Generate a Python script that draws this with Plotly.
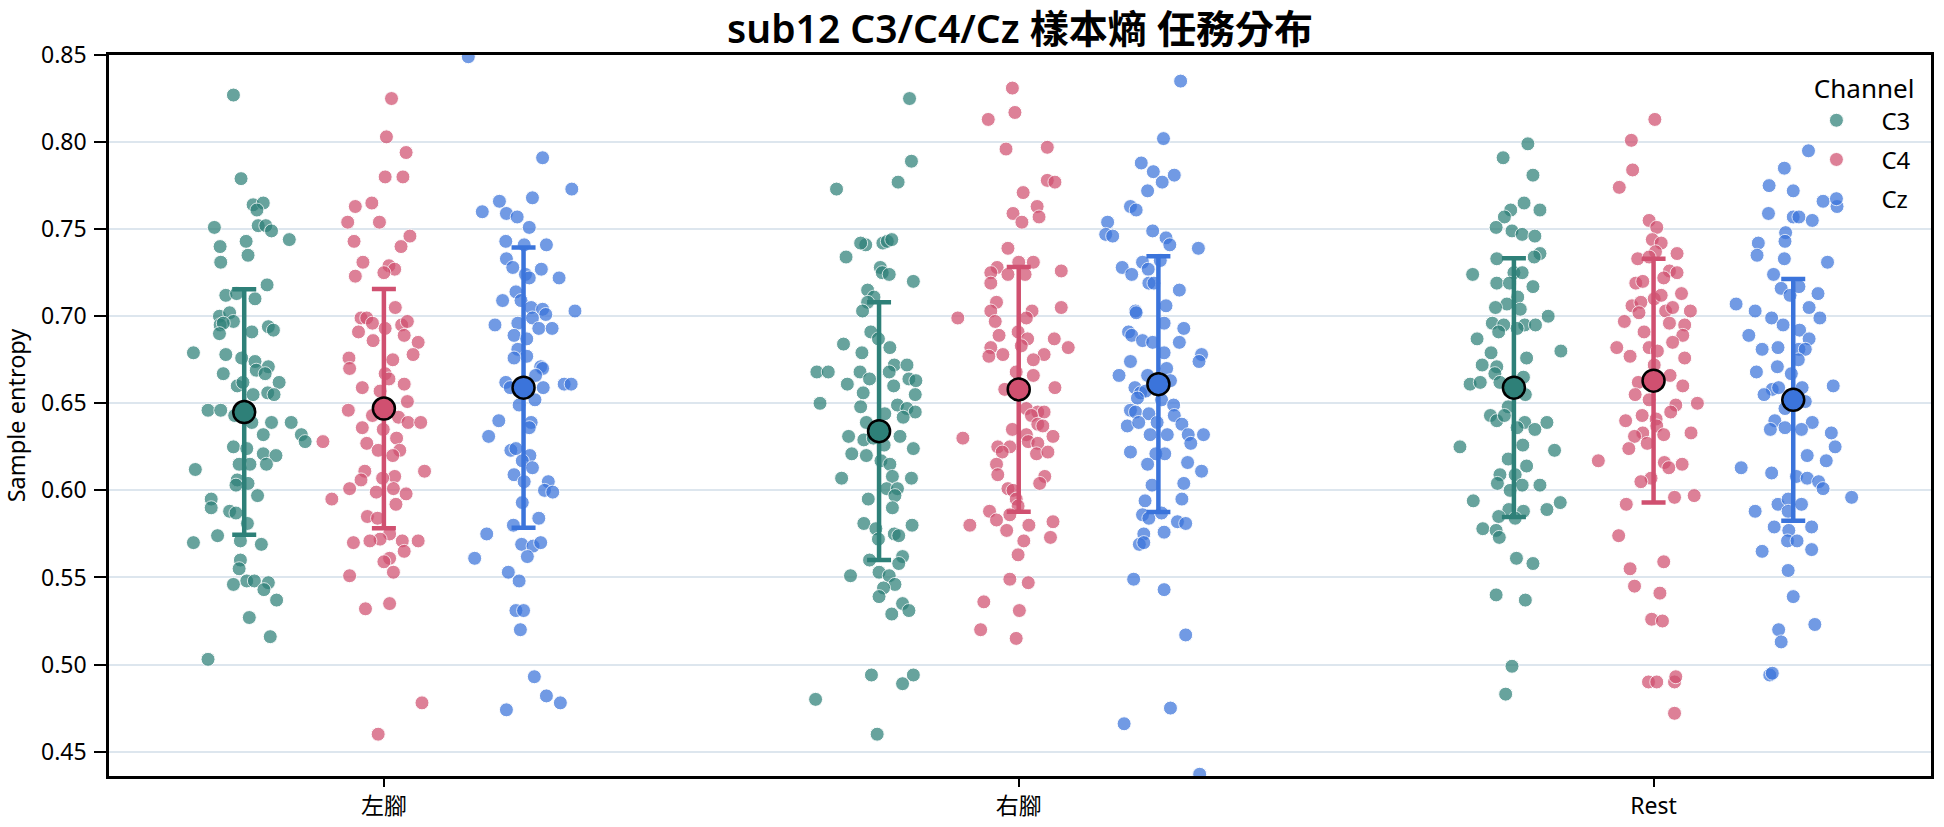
import plotly.graph_objects as go

CATEGORIES = ["左腳", "右腳", "Rest"]
CHANNELS = ["C3", "C4", "Cz"]
Y_TICKS = [0.45, 0.50, 0.55, 0.60, 0.65, 0.70, 0.75, 0.80, 0.85]

# ---- 左腳 ----
left_C3 = [0.827,0.779,0.764,0.765,0.761,0.752,0.752,0.749,0.751,0.743,
           0.744,0.740,0.735,0.731,0.718,0.712,0.713,0.710,0.700,0.702,
           0.697,0.695,0.696,0.694,0.692,0.691,0.690,0.679,0.678,0.676,
           0.674,0.671,0.669,0.667,0.667,0.662,0.660,0.662,0.656,0.655,
           0.655,0.646,0.646,0.643,0.639,0.639,0.639,0.632,0.628,0.632,
           0.625,0.624,0.621,0.620,0.615,0.615,0.615,0.612,0.606,0.604,
           0.603,0.597,0.595,0.590,0.588,0.587,0.581,0.570,0.574,0.571,
           0.569,0.560,0.555,0.548,0.546,0.548,0.547,0.543,0.537,0.527,
           0.516,0.503]
left_C3_jit = [-0.017,-0.005,0.014,0.030,0.020,0.022,0.034,0.043,-0.047,0.003,
               0.071,-0.038,0.006,-0.037,0.036,-0.029,-0.012,0.017,-0.039,-0.023,
               -0.017,-0.038,-0.033,0.038,0.046,0.012,-0.039,-0.080,-0.029,-0.004,
               0.017,0.038,0.019,0.033,-0.033,0.055,-0.011,-0.002,0.037,0.047,
               0.014,-0.057,-0.037,-0.015,0.012,0.043,0.074,0.090,0.096,0.030,
               -0.017,0.004,0.030,0.050,0.009,-0.008,0.035,-0.077,-0.011,0.006,
               -0.013,0.021,-0.052,-0.052,-0.023,-0.013,0.005,-0.080,-0.042,-0.006,
               0.027,-0.006,-0.008,0.004,-0.017,0.016,0.038,0.031,0.051,0.008,
               0.041,-0.057]
left_C4 = [0.825,0.803,0.794,0.780,0.780,0.763,0.765,0.754,0.754,0.746,
           0.743,0.740,0.731,0.729,0.727,0.725,0.723,0.705,0.699,0.699,
           0.696,0.693,0.695,0.697,0.691,0.689,0.686,0.685,0.678,0.676,
           0.675,0.670,0.667,0.664,0.659,0.661,0.657,0.651,0.646,0.643,
           0.642,0.639,0.639,0.636,0.635,0.630,0.627,0.623,0.623,0.620,
           0.628,0.611,0.611,0.608,0.606,0.607,0.601,0.599,0.601,0.598,
           0.595,0.592,0.585,0.584,0.575,0.572,0.571,0.571,0.570,0.571,
           0.565,0.561,0.559,0.553,0.551,0.532,0.535,0.478,0.460]
left_C4_jit = [0.012,0.004,0.035,0.002,0.030,-0.045,-0.019,-0.057,-0.007,0.041,
               -0.047,0.027,-0.033,0.008,0.017,0.000,-0.045,0.018,-0.036,-0.027,
               -0.018,0.002,0.028,0.037,-0.040,0.032,-0.017,0.054,0.046,-0.055,
               0.014,-0.054,0.002,0.008,-0.034,0.032,-0.006,0.037,-0.056,-0.018,
               0.023,0.038,0.058,-0.034,-0.001,0.020,-0.027,-0.009,0.025,0.014,
               -0.096,0.064,-0.030,0.017,-0.036,-0.002,-0.054,-0.012,0.015,0.035,
               -0.082,0.019,-0.026,-0.010,0.009,-0.006,0.029,0.054,-0.048,-0.022,
               0.032,0.009,0.000,0.015,-0.054,-0.029,0.009,0.060,-0.009]
left_Cz = [0.849,0.791,0.773,0.768,0.766,0.760,0.759,0.757,0.751,0.743,
           0.741,0.741,0.733,0.728,0.727,0.724,0.722,0.722,0.714,0.709,
           0.709,0.705,0.704,0.701,0.703,0.699,0.695,0.696,0.693,0.693,
           0.689,0.687,0.681,0.677,0.676,0.671,0.670,0.666,0.662,0.659,
           0.659,0.661,0.661,0.649,0.652,0.640,0.639,0.636,0.631,0.623,
           0.624,0.620,0.617,0.613,0.609,0.605,0.605,0.600,0.599,0.593,
           0.584,0.580,0.575,0.569,0.568,0.570,0.561,0.562,0.553,0.548,
           0.531,0.531,0.520,0.493,0.482,0.478,0.474]
left_Cz_jit = [-0.087,0.030,0.076,0.014,-0.038,-0.065,-0.027,-0.010,0.009,-0.028,
               0.036,0.001,-0.027,-0.017,0.028,0.003,0.009,0.056,-0.012,-0.033,
               -0.004,0.012,0.030,0.035,0.081,0.014,-0.045,-0.009,0.024,0.045,
               -0.015,0.005,-0.009,0.005,-0.015,0.027,0.030,0.019,-0.028,-0.021,
               0.031,0.064,0.075,-0.007,0.018,-0.039,0.012,0.009,-0.055,-0.020,
               -0.012,0.010,-0.002,0.014,-0.015,0.001,0.039,0.033,0.046,-0.002,
               0.024,-0.016,-0.058,-0.003,0.015,0.027,-0.077,0.006,-0.024,-0.007,
               -0.012,0.000,-0.005,0.017,0.036,0.058,-0.027]

# ---- 右腳 ----
right_C3 = [0.825,0.789,0.773,0.777,0.741,0.742,0.742,0.743,0.744,0.734,
            0.728,0.725,0.724,0.720,0.715,0.711,0.708,0.703,0.691,0.687,
            0.684,0.682,0.679,0.672,0.672,0.668,0.668,0.668,0.664,0.668,
            0.664,0.663,0.661,0.660,0.656,0.655,0.650,0.648,0.644,0.649,
            0.647,0.645,0.642,0.639,0.631,0.629,0.630,0.631,0.626,0.621,
            0.620,0.624,0.617,0.615,0.607,0.608,0.607,0.601,0.601,0.597,
            0.595,0.590,0.581,0.580,0.578,0.575,0.574,0.572,0.562,0.558,
            0.560,0.551,0.553,0.551,0.546,0.544,0.539,0.535,0.531,0.529,
            0.494,0.494,0.489,0.480,0.460]
right_C3_jit = [0.048,0.051,-0.067,0.030,-0.021,-0.029,0.006,0.013,0.020,-0.052,
                0.002,0.005,0.016,0.054,-0.018,-0.008,-0.018,-0.026,-0.013,-0.001,
                -0.056,0.017,-0.027,0.024,0.044,-0.098,-0.080,-0.030,-0.015,0.016,
                0.047,0.058,-0.050,0.023,-0.025,0.057,-0.093,-0.029,0.009,0.029,
                0.044,0.057,0.038,-0.020,-0.048,-0.024,-0.009,0.033,0.008,-0.043,
                -0.020,0.054,0.003,0.017,-0.059,0.021,0.051,0.012,0.029,0.025,
                -0.017,0.021,-0.024,0.052,-0.005,0.024,0.031,-0.001,0.037,0.031,
                -0.015,-0.045,0.000,0.016,0.025,0.007,0.000,0.037,0.047,0.020,
                -0.012,0.054,0.037,-0.100,-0.003]
right_C4 = [0.831,0.817,0.813,0.796,0.797,0.778,0.777,0.771,0.763,0.759,
            0.757,0.754,0.739,0.731,0.731,0.728,0.725,0.724,0.724,0.726,
            0.719,0.708,0.703,0.703,0.705,0.699,0.699,0.697,0.689,0.691,
            0.687,0.687,0.682,0.683,0.682,0.677,0.678,0.678,0.675,0.668,
            0.666,0.658,0.659,0.647,0.645,0.645,0.643,0.638,0.637,0.635,
            0.630,0.632,0.631,0.628,0.625,0.625,0.627,0.621,0.622,0.622,
            0.615,0.609,0.608,0.604,0.601,0.600,0.595,0.591,0.588,0.586,
            0.583,0.580,0.580,0.582,0.577,0.573,0.571,0.563,0.549,0.547,
            0.536,0.531,0.520,0.515]
right_C4_jit = [-0.010,-0.006,-0.048,-0.020,0.045,0.045,0.057,0.007,0.029,-0.009,
                0.032,0.005,-0.017,0.000,0.023,-0.034,-0.044,-0.017,0.010,0.067,
                -0.044,-0.035,-0.044,0.021,0.067,0.012,-0.096,-0.037,-0.031,-0.001,
                0.014,0.056,-0.044,0.004,0.078,-0.047,-0.025,0.040,0.023,-0.004,
                0.023,-0.022,0.057,0.012,0.030,0.040,0.020,0.030,0.038,-0.010,
                -0.088,0.012,0.054,0.015,-0.033,-0.014,0.030,0.028,0.046,-0.026,
                -0.035,-0.033,0.041,0.033,-0.017,-0.009,-0.004,-0.001,-0.046,-0.014,
                -0.035,-0.077,0.016,0.054,-0.019,0.050,0.008,-0.001,-0.014,0.015,
                -0.055,0.001,-0.060,-0.004]
right_Cz = [0.835,0.802,0.788,0.783,0.781,0.777,0.772,0.763,0.761,0.754,
            0.747,0.746,0.749,0.745,0.741,0.739,0.731,0.732,0.728,0.724,
            0.727,0.719,0.719,0.715,0.706,0.703,0.702,0.696,0.693,0.691,
            0.689,0.686,0.685,0.685,0.679,0.678,0.674,0.674,0.670,0.666,
            0.666,0.663,0.659,0.656,0.657,0.653,0.652,0.649,0.646,0.645,
            0.644,0.643,0.637,0.639,0.639,0.638,0.632,0.632,0.632,0.632,
            0.627,0.622,0.621,0.621,0.616,0.615,0.611,0.604,0.603,0.594,
            0.595,0.586,0.584,0.587,0.582,0.581,0.575,0.576,0.569,0.570,
            0.549,0.543,0.517,0.475,0.466,0.437]
right_Cz_jit = [0.035,0.008,-0.027,-0.008,0.025,0.006,-0.017,-0.044,-0.035,-0.080,
                -0.083,-0.072,-0.009,0.012,0.018,0.063,-0.025,0.003,-0.057,-0.042,
                -0.016,-0.015,-0.007,0.033,0.012,-0.036,-0.035,0.009,0.040,-0.047,
                -0.042,-0.025,-0.009,0.033,0.009,0.068,0.064,-0.044,0.013,-0.062,
                -0.017,0.019,-0.037,-0.028,-0.020,-0.033,0.005,0.024,-0.044,-0.036,
                -0.015,0.025,-0.049,-0.031,-0.002,0.037,-0.013,0.014,0.047,0.071,
                0.051,-0.044,-0.004,0.010,0.046,-0.017,0.068,0.040,-0.010,-0.021,
                0.037,-0.025,-0.015,0.005,0.030,0.043,-0.023,0.009,-0.030,-0.023,
                -0.039,0.009,0.043,0.019,-0.054,0.065]

# ---- Rest ----
rest_C3 = [0.799,0.791,0.781,0.765,0.761,0.761,0.757,0.751,0.749,0.747,
           0.746,0.736,0.734,0.733,0.724,0.725,0.725,0.719,0.719,0.717,
           0.711,0.707,0.705,0.704,0.700,0.696,0.695,0.695,0.695,0.691,
           0.693,0.687,0.680,0.679,0.676,0.672,0.671,0.667,0.665,0.661,
           0.662,0.662,0.655,0.648,0.643,0.640,0.643,0.639,0.639,0.636,
           0.635,0.625,0.626,0.623,0.618,0.614,0.609,0.609,0.604,0.603,
           0.603,0.600,0.594,0.593,0.589,0.588,0.589,0.584,0.585,0.578,
           0.577,0.573,0.561,0.558,0.540,0.537,0.499,0.483]
rest_C3_jit = [0.022,-0.017,0.030,0.016,-0.005,0.041,-0.015,-0.028,-0.003,0.013,
               0.033,0.041,0.032,-0.027,-0.065,0.000,0.013,-0.027,-0.007,0.030,
               0.006,-0.011,-0.029,0.010,0.054,-0.034,-0.016,0.017,0.034,-0.024,
               0.005,-0.058,0.074,-0.036,0.020,-0.050,-0.027,-0.030,0.015,-0.069,
               -0.053,-0.022,0.018,-0.009,-0.037,-0.027,-0.015,0.017,0.052,0.005,
               0.033,-0.085,0.014,0.064,-0.009,0.020,-0.022,0.002,-0.026,0.013,
               0.041,-0.006,-0.064,0.073,0.052,0.015,-0.008,0.002,-0.024,-0.049,
               -0.028,-0.023,0.004,0.030,-0.028,0.018,-0.003,-0.013]
rest_C4 = [0.813,0.801,0.784,0.774,0.755,0.751,0.744,0.742,0.737,0.736,
           0.733,0.734,0.726,0.725,0.722,0.719,0.720,0.713,0.710,0.712,
           0.706,0.708,0.702,0.703,0.705,0.703,0.697,0.696,0.695,0.691,
           0.689,0.685,0.682,0.680,0.682,0.677,0.676,0.672,0.666,0.662,
           0.660,0.655,0.650,0.652,0.649,0.643,0.645,0.640,0.641,0.637,
           0.633,0.633,0.631,0.632,0.627,0.624,0.617,0.616,0.615,0.613,
           0.607,0.605,0.596,0.597,0.592,0.574,0.559,0.555,0.545,0.541,
           0.526,0.525,0.490,0.490,0.490,0.493,0.472]
rest_C4_jit = [0.002,-0.035,-0.033,-0.054,-0.007,0.005,-0.002,0.012,0.003,0.037,
               -0.025,-0.007,0.025,0.037,0.016,-0.028,-0.017,0.044,0.001,0.012,
               -0.034,-0.020,-0.023,0.019,0.030,0.058,-0.046,0.025,0.049,-0.015,
               0.046,0.030,-0.007,0.006,-0.058,-0.037,0.049,0.001,0.026,-0.024,
               0.046,-0.029,0.069,-0.007,0.035,-0.018,0.027,-0.044,0.004,0.005,
               -0.017,0.059,-0.030,0.016,-0.010,-0.039,-0.087,0.017,0.045,0.024,
               -0.004,-0.020,0.033,0.064,-0.043,-0.055,0.016,-0.037,-0.030,0.010,
               -0.003,0.014,-0.008,0.005,0.033,0.035,0.033]
rest_Cz = [0.795,0.785,0.775,0.772,0.766,0.763,0.759,0.757,0.757,0.755,
           0.748,0.743,0.742,0.735,0.733,0.731,0.724,0.716,0.712,0.717,
           0.713,0.707,0.703,0.705,0.699,0.699,0.695,0.692,0.689,0.687,
           0.681,0.682,0.681,0.681,0.675,0.671,0.668,0.667,0.660,0.658,
           0.655,0.659,0.659,0.651,0.647,0.640,0.639,0.635,0.636,0.635,
           0.633,0.625,0.620,0.617,0.613,0.610,0.608,0.607,0.605,0.601,
           0.596,0.592,0.595,0.592,0.588,0.588,0.579,0.579,0.577,0.571,
           0.571,0.566,0.565,0.554,0.539,0.520,0.523,0.513,0.494,0.495]
rest_Cz_jit = [0.024,-0.014,-0.038,0.000,0.047,0.069,-0.039,0.000,0.009,0.030,
               -0.012,-0.013,-0.055,-0.057,-0.014,0.054,-0.031,-0.019,-0.005,0.009,
               0.039,-0.090,-0.060,0.025,-0.034,0.042,-0.016,0.010,-0.070,0.025,
               -0.049,-0.024,0.009,0.019,0.008,-0.025,-0.058,-0.003,0.063,-0.033,
               -0.046,0.014,-0.023,0.019,-0.013,-0.029,0.030,-0.036,-0.013,0.013,
               0.060,0.066,0.022,0.052,-0.082,-0.034,0.005,0.022,0.040,0.047,
               0.092,-0.024,-0.008,0.013,-0.060,-0.008,-0.030,0.029,-0.007,-0.009,
               0.006,0.029,-0.049,-0.008,0.000,-0.023,0.034,-0.019,-0.037,-0.033]

# summary statistics (mean, SD) per task, order: 左腳, 右腳, Rest
mean_C3 = [0.645, 0.634, 0.659]
mean_C4 = [0.647, 0.658, 0.663]
mean_Cz = [0.659, 0.661, 0.652]
sd_C3 = [0.0705, 0.0740, 0.0743]
sd_C4 = [0.0687, 0.0703, 0.0700]
sd_Cz = [0.0805, 0.0734, 0.0694]

points = {
    "C3": [(left_C3, left_C3_jit), (right_C3, right_C3_jit), (rest_C3, rest_C3_jit)],
    "C4": [(left_C4, left_C4_jit), (right_C4, right_C4_jit), (rest_C4, rest_C4_jit)],
    "Cz": [(left_Cz, left_Cz_jit), (right_Cz, right_Cz_jit), (rest_Cz, rest_Cz_jit)],
}
means = {"C3": mean_C3, "C4": mean_C4, "Cz": mean_Cz}
sds = {"C3": sd_C3, "C4": sd_C4, "Cz": sd_Cz}

colors = {"C3": "#2e8078", "C4": "#d05070", "Cz": "#3b74db"}
dodge = {"C3": -0.22, "C4": 0.0, "Cz": 0.22}

FONT = "Noto Sans, Noto Sans CJK TC, sans-serif"

fig = go.Figure()

for ch in CHANNELS:
    xs, ys = [], []
    for ci, (vals, jit) in enumerate(points[ch]):
        for v, j in zip(vals, jit):
            xs.append(ci + dodge[ch] + j)
            ys.append(v)
    fig.add_trace(go.Scatter(
        x=xs, y=ys, mode="markers", name=ch, legendgroup=ch,
        marker=dict(size=14, color=colors[ch], opacity=0.72,
                    line=dict(color="white", width=1)),
        hoverinfo="skip",
    ))

for ch in CHANNELS:
    fig.add_trace(go.Scatter(
        x=[ci + dodge[ch] for ci in range(len(CATEGORIES))],
        y=means[ch], mode="markers", showlegend=False,
        marker=dict(size=22, color=colors[ch], line=dict(color="black", width=2.5)),
        error_y=dict(type="data", array=sds[ch], color=colors[ch],
                     thickness=4.5, width=12),
    ))

fig.update_layout(
    width=1944, height=827,
    margin=dict(l=109, r=13, t=55, b=51, autoexpand=False),
    plot_bgcolor="white", paper_bgcolor="white",
    font=dict(family=FONT, size=23, color="black"),
    title=dict(text="sub12 C3/C4/Cz 樣本熵 任務分布", x=0.5, xref="paper",
               xanchor="center", y=0.964, yref="container", yanchor="middle",
               font=dict(family=FONT, size=39, weight=600, color="black")),
    legend=dict(title=dict(text="Channel", font=dict(size=26), side="top right"),
                x=0.992, xanchor="right", y=0.987, yanchor="top",
                itemwidth=80, tracegroupgap=5,
                bgcolor="rgba(0,0,0,0)", font=dict(size=24)),
    showlegend=True,
)
fig.update_xaxes(
    range=[-0.433, 2.437], tickvals=list(range(len(CATEGORIES))), ticktext=CATEGORIES,
    showgrid=False, zeroline=False, showline=True, linecolor="black", linewidth=2.5,
    mirror=True, ticks="outside", ticklen=8, tickwidth=2, tickcolor="black",
    automargin=False,
)
fig.update_yaxes(
    range=[0.436, 0.85], tickvals=Y_TICKS, tickformat=".2f",
    showgrid=True, gridcolor="#dde6ee", gridwidth=1.5, zeroline=False,
    showline=True, linecolor="black", linewidth=2.5, mirror=True,
    ticks="outside", ticklen=12, tickwidth=2, tickcolor="black",
    ticklabelstandoff=3, automargin=False,
    title=dict(text="Sample entropy", font=dict(size=23.5), standoff=14),
)

fig.write_html("out.html")
